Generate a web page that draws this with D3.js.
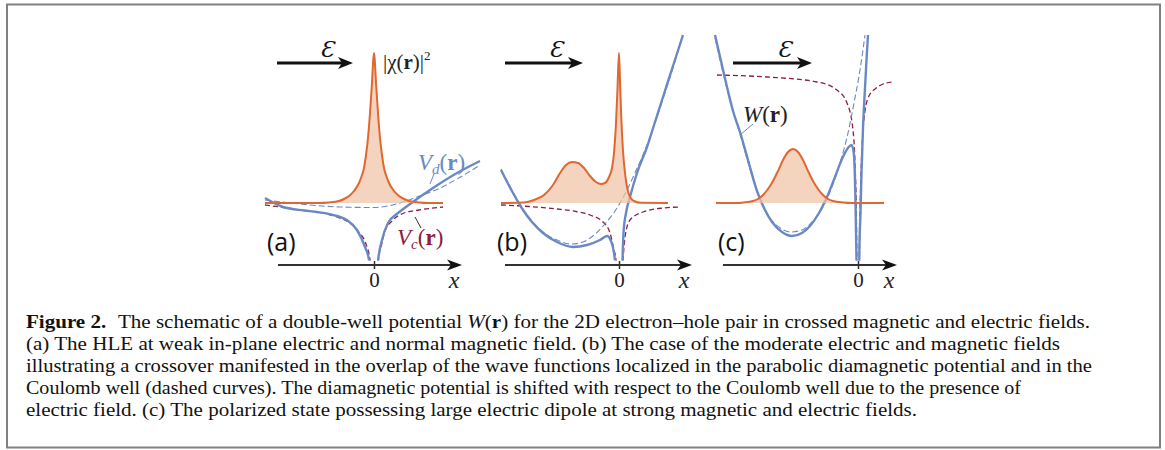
<!DOCTYPE html>
<html>
<head>
<meta charset="utf-8">
<script src="https://cdn.jsdelivr.net/npm/d3@7"></script>
<style>
  body { margin: 0; background: #fff; }
  svg { display: block; }
</style>
</head>
<body>
<svg id="fig" width="1165" height="450"></svg>
<script>
// values: x in arbitrary length units (0 = tick), y in energy units (0 = wave-function baseline)

// panel (a) weak fields
var psiA = [[-10.9,0],[-5.5,0],[-4.5,0.05],[-3.5,0.2],[-3,0.4],[-2.5,0.7],[-2,1.2],[-1.5,2.0],[-1.2,2.8],[-1,3.5],[-0.8,4.8],[-0.6,6.5],[-0.4,9],[-0.2,12],[-0.08,14.2],[0,15],
            [0.08,14.2],[0.2,12],[0.4,9],[0.6,6.5],[0.8,4.8],[1,3.5],[1.2,2.8],[1.5,2.0],[2,1.2],[2.5,0.7],[3,0.4],[3.5,0.2],[4.5,0.05],[5.5,0],[6.9,0]];
var wA   = [[-10.9,0.5],[-9.1,-0.4],[-7,-0.75],[-5.7,-0.9],[-3.7,-1.3],[-2.7,-1.7],[-1.7,-2.7],[-0.9,-4.4],[-0.5,-5.7],[-0.4,-7],
            [0.35,-7],[0.4,-5.9],[0.8,-3.7],[1.4,-2.0],[2.4,-1.0],[3.6,-0.1],[5.9,1.5],[8.3,3.0],[10.6,4.2]];
var vdA  = [[-10.9,0.3],[-7.4,-0.1],[-3.4,-0.4],[0,-0.45],[2.6,0],[4.3,0.6],[6.6,1.5],[8.3,2.4],[10.6,3.8]];
var vcA  = [[-10.9,-0.2],[-8,-0.6],[-3.7,-1.4],[-1.7,-2.7],[-0.7,-4.4],[-0.4,-5.7],[-0.3,-7],
            [0.3,-7],[0.4,-5.7],[0.7,-4.4],[1.1,-2.8],[1.8,-1.8],[3,-1.0],[4.5,-0.7],[6.9,-0.4]];
var axA  = [-9.6, 8.8];

// panel (b) moderate fields
var psiB = [[-11.8,0],[-9.5,0.05],[-8.5,0.3],[-7.5,0.8],[-6.6,1.8],[-5.9,3.0],[-5.3,3.8],[-4.7,4.1],[-4.1,4.0],[-3.5,3.5],[-2.9,2.7],[-2.3,2.1],[-1.8,1.9],[-1.4,2.0],
            [-1.0,2.6],[-0.7,3.5],[-0.5,5],[-0.3,8],[-0.15,11.5],[0,15],[0.12,11.5],[0.25,8],[0.4,5.2],[0.6,3.0],[0.8,1.6],[1.1,0.6],[1.5,0.2],[2.2,0.02],[4.9,0]];
var wB   = [[-11.8,3.3],[-10.6,1.0],[-9.6,-0.7],[-8.7,-1.9],[-7.6,-3.0],[-6.2,-3.9],[-4.6,-4.4],[-3.2,-4.2],[-1.9,-3.7],[-1.2,-3.3],[-0.8,-3.8],[-0.5,-5.0],[-0.35,-6.3],[-0.3,-7],
            [0.3,-7],[0.35,-5.7],[0.45,-3.0],[0.7,-1.0],[1.1,0.6],[1.8,3.0],[2.8,5.6],[3.6,8.1],[4.4,10.6],[5.4,13.7],[6.4,16.8]];
var vdB  = [[-11.8,3.4],[-10.6,1.1],[-9.6,-0.6],[-8.7,-1.8],[-7.6,-2.9],[-6.2,-3.7],[-4.8,-4.1],[-3.6,-3.9],[-2.5,-3.2],[-1.4,-2.1],[-0.4,-0.8],[0.6,0.9],[1.5,2.8],[2.8,5.8],[3.6,8.0],[4.4,10.4],[5.4,13.5],[6.3,16.6]];
var vcB  = [[-11.8,-0.2],[-9,-0.35],[-6.2,-0.6],[-4.3,-0.85],[-2.9,-1.2],[-1.6,-1.9],[-0.9,-3.0],[-0.5,-4.7],[-0.3,-5.7],[-0.25,-7],
            [0.3,-7],[0.4,-5.7],[0.6,-3.4],[1.1,-1.7],[2.4,-0.9],[4.4,-0.5],[6.1,-0.4]];
var axB  = [-11.4, 7.3];

// panel (c) strong fields
var psiC = [[-14.2,0],[-12,0],[-11.5,0.05],[-10.5,0.2],[-10,0.4],[-9.5,0.8],[-9,1.4],[-8.5,2.2],[-8,3.2],[-7.5,4.3],[-7,5.1],[-6.5,5.4],[-6,5.1],[-5.5,4.3],[-5,3.2],
            [-4.5,2.2],[-4,1.4],[-3.5,0.8],[-3,0.4],[-2.5,0.2],[-1.5,0.05],[-0.5,0],[2.6,0]];
var wC   = [[-14.3,16.8],[-13.7,14.2],[-13.1,11.6],[-12.5,9.2],[-11.8,7.1],[-11,4.3],[-10.1,1.2],[-9.4,-0.5],[-8.6,-1.9],[-7.6,-2.9],[-6.6,-3.3],[-5.6,-3.0],[-4.8,-2.3],
            [-3.9,-1.0],[-3.1,0.6],[-2.3,2.6],[-1.6,4.4],[-1.0,5.5],[-0.65,5.8],[-0.45,5.2],[-0.32,3.0],[-0.25,0],[-0.18,-4],[-0.12,-7],
            [0.1,-7],[0.15,-4],[0.25,-1],[0.35,3.0],[0.5,7.5],[0.7,11.5],[0.85,14.3],[1.0,16.8]];
var vdC  = [[-14.3,16.5],[-13.1,11.4],[-11.8,6.9],[-10.1,1.2],[-8.8,-1.5],[-7.6,-2.6],[-6.7,-2.9],[-5.6,-2.7],[-4.5,-1.8],[-3.5,-0.4],[-2.6,1.6],[-1.8,4.0],[-1.0,7.0],[-0.4,10.0],[0.2,13.3],[0.7,16.8]];
var vcC  = [[-14.1,12.8],[-9.1,12.6],[-4.1,12.1],[-2.1,11.3],[-1.1,10.0],[-0.5,7.3],[-0.3,4],[-0.15,-2],[-0.1,-7],
            [0.1,-7],[0.2,-1],[0.3,3],[0.45,6.5],[0.7,9.2],[1.1,10.7],[1.7,11.4],[2.5,11.9],[3.4,12.1]];
var axC  = [-13.5, 3.9];

var panelNames = ["(a)", "(b)", "(c)"];

var captionLines = [
  [["Figure 2.", "b"], ["The schematic of a double-well potential ", "", 10], ["W", "i"], ["(", ""], ["r", "b"], [") for the 2D electron\u2013hole pair in crossed magnetic and electric fields.", ""]],
  [["(a) The HLE at weak in-plane electric and normal magnetic field. (b) The case of the moderate electric and magnetic fields", ""]],
  [["illustrating a crossover manifested in the overlap of the wave functions localized in the parabolic diamagnetic potential and in the", ""]],
  [["Coulomb well (dashed curves). The diamagnetic potential is shifted with respect to the Coulomb well due to the presence of", ""]],
  [["electric field. (c) The polarized state possessing large electric dipole at strong magnetic and electric fields.", ""]]
];
var captionWidths = [1064, 1034, 1066, 995, 891];

var blue = "#6a89c4", red = "#8c1d43", orange = "#e0672f", ink = "#222";
var serif = "'Liberation Serif', 'DejaVu Serif', serif";

var svg = d3.select("#fig");
svg.append("rect").attr("width", 1165).attr("height", 450).attr("fill", "#fff");

// frame round figure + caption
svg.append("rect")
  .attr("x", 7).attr("y", 4.5).attr("width", 1153).attr("height", 443)
  .attr("fill", "none").attr("stroke", "#808080").attr("stroke-width", 2);

var y = d3.scaleLinear().domain([-6.2, 17]).range([265, 33]);

var panels = [
  {x: d3.scaleLinear().domain([-12, 12]).range([254, 494]), psi: psiA, w: wA, vd: vdA, vc: vcA, ax: axA, arrow: [277, 353]},
  {x: d3.scaleLinear().domain([-12, 12]).range([499, 739]), psi: psiB, w: wB, vd: vdB, vc: vcB, ax: axB, arrow: [505, 583]},
  {x: d3.scaleLinear().domain([-15, 5]).range([708, 908]),  psi: psiC, w: wC, vd: vdC, vc: vcC, ax: axC, arrow: [733, 812]}
];

panels.forEach(function(p, i) {
  var x = p.x;
  var clipId = "clip" + i;
  svg.append("clipPath").attr("id", clipId)
    .append("rect")
    .attr("x", x.range()[0]).attr("y", 30)
    .attr("width", x.range()[1] - x.range()[0]).attr("height", y(-5.75) - 30);

  var line = d3.line().x(function(d) { return x(d[0]); }).y(function(d) { return y(d[1]); }).curve(d3.curveMonotoneX);
  var area = d3.area().x(function(d) { return x(d[0]); }).y0(y(0)).y1(function(d) { return y(d[1]); }).curve(d3.curveMonotoneX);

  var g = svg.append("g").attr("clip-path", "url(#" + clipId + ")");

  g.append("path").datum(p.vc).attr("d", line)
    .attr("fill", "none").attr("stroke", red).attr("stroke-width", 1.3).attr("stroke-dasharray", "5,3");
  g.append("path").datum(p.vd).attr("d", line)
    .attr("fill", "none").attr("stroke", blue).attr("stroke-width", 1.1).attr("stroke-dasharray", "6,3");
  g.append("path").datum(p.w).attr("d", line)
    .attr("fill", "none").attr("stroke", blue).attr("stroke-width", 2.4);

  g.append("path").datum(p.psi).attr("d", area)
    .attr("fill", "#f0c2a6").attr("opacity", 0.72);
  g.append("path").datum(p.psi).attr("d", line)
    .attr("fill", "none").attr("stroke", orange).attr("stroke-width", 2);

  // x axis with a single tick at 0
  var axScale = x.copy().domain(p.ax).range(p.ax.map(x));
  var axG = svg.append("g").attr("transform", "translate(0," + y(-6.2) + ")")
    .call(d3.axisBottom(axScale).tickValues([0]).tickSizeOuter(0).tickSize(4).tickFormat(d3.format("d")));
  var x0 = axScale.range()[0], x1 = axScale.range()[1];
  axG.select(".domain").attr("d", "M" + x0 + ",0H" + (x1 - 8)).attr("stroke", "#333").attr("stroke-width", 2);
  axG.selectAll(".tick line").attr("y1", -4).attr("stroke", "#333").attr("stroke-width", 1.5);
  axG.selectAll(".tick text").attr("y", 7).attr("dy", "0.71em")
    .attr("fill", ink).style("font-family", serif).style("font-size", "21px");
  axG.append("path")
    .attr("d", "M" + x1 + ",0L" + (x1 - 15) + ",-5.5L" + (x1 - 11) + ",0L" + (x1 - 15) + ",5.5Z")
    .attr("fill", "#111");
  axG.append("text").attr("x", x1 - 8).attr("y", 23)
    .attr("fill", ink).style("font-family", serif).style("font-style", "italic").style("font-size", "24px")
    .text("x");

  // field arrow
  var ay = 63, a0 = p.arrow[0], a1 = p.arrow[1];
  svg.append("line").attr("x1", a0).attr("x2", a1 - 10).attr("y1", ay).attr("y2", ay)
    .attr("stroke", "#111").attr("stroke-width", 3.2);
  svg.append("path")
    .attr("d", "M" + a1 + "," + ay + "L" + (a1 - 15) + "," + (ay - 6) + "L" + (a1 - 11) + "," + ay + "L" + (a1 - 15) + "," + (ay + 6) + "Z")
    .attr("fill", "#111");
  svg.append("text").attr("x", (a0 + a1) / 2 + 12).attr("y", 57).attr("text-anchor", "middle")
    .attr("fill", "#111").style("font-family", "'DejaVu Serif', serif").style("font-style", "italic").style("font-size", "23px")
    .text("\u0190");

  // panel letter
  svg.append("text").attr("x", x.range()[0] + [13, -2, 10][i]).attr("y", 251)
    .attr("fill", "#111").style("font-family", "'Open Sans', 'Liberation Sans', sans-serif").style("font-size", "25px")
    .text(panelNames[i]);
});

// math labels
function mathLabel(x0, y0, color, size, parts) {
  var t = svg.append("text").attr("x", x0).attr("y", y0).attr("fill", color)
    .style("font-family", serif).style("font-size", size);
  parts.forEach(function(s) {
    var ts = t.append("tspan").text(s[0]);
    if (s[1].indexOf("i") >= 0) ts.style("font-style", "italic");
    if (s[1].indexOf("b") >= 0) ts.style("font-weight", "bold");
    if (s[2]) ts.attr("dy", s[2]);
    if (s[3]) ts.style("font-size", s[3]);
  });
  return t;
}

mathLabel(383, 69, ink, "21px", [["|\u03c7(", ""], ["r", "b"], [")|", ""], ["2", "", -9, "13px"]]);
mathLabel(418, 170, blue, "23px", [["V", "i"], ["d", "i", 4, "15px"], ["(", "", -4], ["r", "b"], [")", ""]]);
mathLabel(397, 245, red, "23px", [["V", "i"], ["c", "i", 4, "15px"], ["(", "", -4], ["r", "b"], [")", ""]]);
mathLabel(743, 122, ink, "23px", [["W", "i"], ["(", ""], ["r", "b"], [")", ""]]);

// leader lines
svg.append("line").attr("x1", 430).attr("y1", 184).attr("x2", 434).attr("y2", 174).attr("stroke", blue).attr("stroke-width", 1);
svg.append("line").attr("x1", 415).attr("y1", 217).attr("x2", 421).attr("y2", 228).attr("stroke", "#333").attr("stroke-width", 1);
svg.append("line").attr("x1", 753).attr("y1", 124).attr("x2", 740).attr("y2", 135).attr("stroke", blue).attr("stroke-width", 1);

// caption
captionLines.forEach(function(segs, i) {
  var t = svg.append("text").attr("x", 26).attr("y", 328 + i * 22)
    .attr("textLength", captionWidths[i]).attr("lengthAdjust", "spacingAndGlyphs")
    .attr("fill", "#111").style("font-family", serif).style("font-size", "18px");
  segs.forEach(function(s) {
    var ts = t.append("tspan").text(s[0]);
    if (s[1] === "b") ts.style("font-weight", "bold");
    if (s[1] === "i") ts.style("font-style", "italic");
    if (s[2]) ts.attr("dx", s[2]);
  });
});
</script>
</body>
</html>
